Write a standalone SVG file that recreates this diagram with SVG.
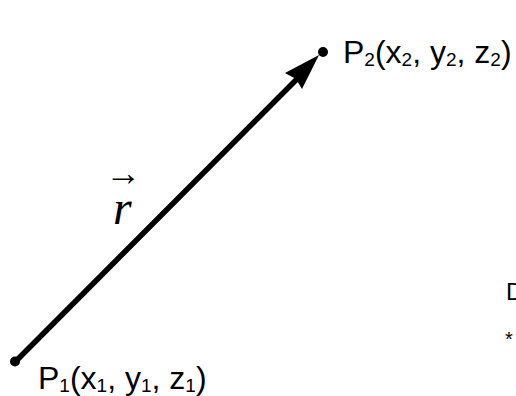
<svg xmlns="http://www.w3.org/2000/svg" width="516" height="396" viewBox="0 0 516 396">
<style>
.lbl{font-family:"Liberation Sans",Arial,sans-serif;font-size:32px;fill:#000}
.sub{font-size:19px}
.vec{font-family:"Liberation Serif","Times New Roman",serif;font-style:italic;font-size:48px;fill:#000}
</style>
<rect width="516" height="396" fill="#fff"/>
<g id="connectors">
<line x1="15" y1="362" x2="297" y2="79" stroke="#000" stroke-width="5.5"/>
<polygon points="319,55 285,73 296,79 302,89" fill="#000"/>
</g>
<g id="p1">
<circle cx="15" cy="361.5" r="5" fill="#000"/>
<text class="lbl" x="38" y="389">P<tspan class="sub" dy="3">1</tspan><tspan dy="-3">(x</tspan><tspan class="sub" dy="3">1</tspan><tspan dy="-3">, y</tspan><tspan class="sub" dy="3">1</tspan><tspan dy="-3">, z</tspan><tspan class="sub" dy="3">1</tspan><tspan dy="-3">)</tspan></text>
</g>
<g id="p2">
<circle cx="323" cy="52" r="5" fill="#000"/>
<text class="lbl" x="343" y="63">P<tspan class="sub" dy="3">2</tspan><tspan dy="-3">(x</tspan><tspan class="sub" dy="3">2</tspan><tspan dy="-3">, y</tspan><tspan class="sub" dy="3">2</tspan><tspan dy="-3">, z</tspan><tspan class="sub" dy="3">2</tspan><tspan dy="-3">)</tspan></text>
</g>
<g id="r">
<text x="105.5" y="185" style="font-family:'Liberation Serif',serif;font-size:36px">→</text>
<text class="vec" x="113" y="224">r</text>
</g>
<g id="edge">
<text class="lbl" x="506" y="300" style="font-size:24px">D</text>
<text class="lbl" x="505" y="346" style="font-size:20px">*</text>
</g>
</svg>
